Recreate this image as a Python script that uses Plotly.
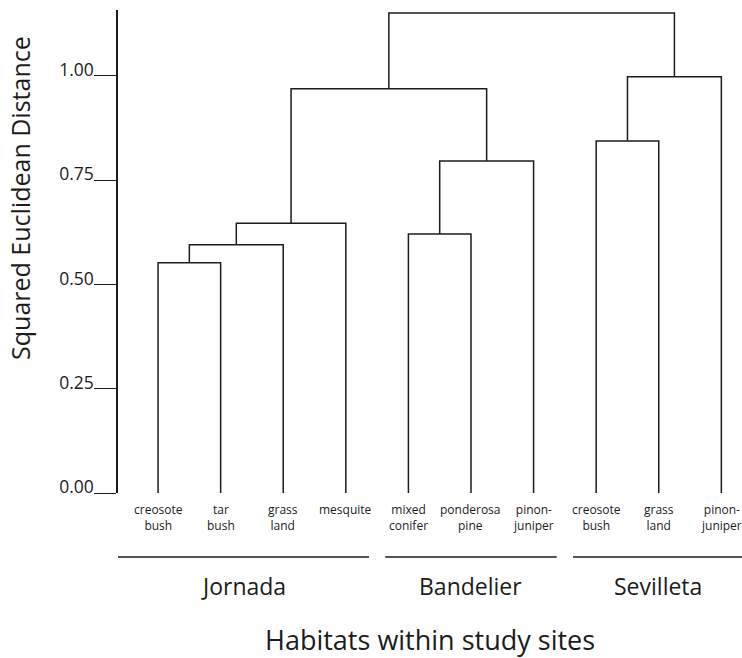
import plotly.graph_objects as go

# Habitats (dendrogram leaves, left to right) and the study site of each
leaf_labels = ["creosote<br>bush", "tar<br>bush", "grass<br>land", "mesquite",
               "mixed<br>conifer", "ponderosa<br>pine", "pinon-<br>juniper",
               "creosote<br>bush", "grass<br>land", "pinon-<br>juniper"]
sites = ["Jornada", "Bandelier", "Sevilleta"]
site_leaves = [[0, 1, 2, 3], [4, 5, 6], [7, 8, 9]]

# Agglomeration steps: (left cluster, right cluster, squared Euclidean distance)
# clusters 0-9 are the leaves, each step creates the next cluster id (10, 11, ...)
merge_left = [0, 10, 11, 4, 13, 12, 7, 16, 15]
merge_right = [1, 2, 3, 5, 6, 14, 8, 9, 17]
merge_height = [0.552, 0.595, 0.647, 0.621, 0.796, 0.969, 0.844, 0.998, 1.151]

y_ticks = [0.0, 0.25, 0.50, 0.75, 1.00]

n = len(leaf_labels)
pos = {i: float(i) for i in range(n)}
hgt = {i: 0.0 for i in range(n)}
xs, ys = [], []
for k, (a, b, h) in enumerate(zip(merge_left, merge_right, merge_height)):
    xs += [pos[a], pos[a], pos[b], pos[b], None]
    ys += [hgt[a], h, h, hgt[b], None]
    pos[n + k] = (pos[a] + pos[b]) / 2
    hgt[n + k] = h

ink = "#1c1c1c"
font = "Open Sans"
x_range = [-0.64, 9.33]

fig = go.Figure()
fig.add_trace(go.Scatter(x=xs, y=ys, mode="lines",
                         line=dict(color=ink, width=1.5),
                         hoverinfo="skip", showlegend=False))

annotations = []
for i, lab in enumerate(leaf_labels):
    annotations.append(dict(x=i, y=-0.012, xref="x", yref="paper", text=lab,
                            showarrow=False, xanchor="center", yanchor="top",
                            font=dict(family=font, size=12, color=ink)))

# a bracket line under each site's habitats, with the site name beneath it;
# the outer brackets run out to the edges of the plot area
shapes = []
pad = 0.13
last = len(sites) - 1
for g, (name, leaves) in enumerate(zip(sites, site_leaves)):
    x0 = x_range[0] if g == 0 else leaves[0] - 0.5 + pad
    x1 = x_range[1] if g == last else leaves[-1] + 0.5 - pad
    shapes.append(dict(type="line", xref="x", yref="paper", x0=x0, x1=x1,
                       y0=-0.1325, y1=-0.1325, line=dict(color=ink, width=1.3)))
    annotations.append(dict(x=(x0 + x1) / 2, y=-0.192,
                            xref="x", yref="paper", text=name, showarrow=False,
                            xanchor="center", yanchor="middle",
                            font=dict(family=font, size=23, color=ink)))

annotations.append(dict(x=0.5, y=-0.303, xref="paper", yref="paper",
                        text="Habitats within study sites", showarrow=False,
                        xanchor="center", yanchor="middle",
                        font=dict(family=font, size=27, color=ink)))
annotations.append(dict(x=-0.157, y=0.611, xref="paper", yref="paper",
                        text="Squared Euclidean Distance", showarrow=False,
                        textangle=-90, xanchor="center", yanchor="middle",
                        font=dict(family=font, size=25, color=ink)))

fig.update_layout(
    width=742, height=658,
    margin=dict(l=118, r=0, t=10, b=165),
    paper_bgcolor="white", plot_bgcolor="white",
    xaxis=dict(range=x_range, visible=False, fixedrange=True),
    yaxis=dict(range=[0, 1.158], tickvals=y_ticks, tickformat=".2f",
               showgrid=False, zeroline=False, showline=True,
               linecolor=ink, linewidth=1.5,
               ticks="outside", ticklen=22, tickwidth=1.3, tickcolor=ink,
               ticklabelstandoff=-3, ticklabelshift=-6,
               tickfont=dict(family=font, size=17.5, color=ink)),
    shapes=shapes, annotations=annotations,
)

fig.write_html("out.html")
